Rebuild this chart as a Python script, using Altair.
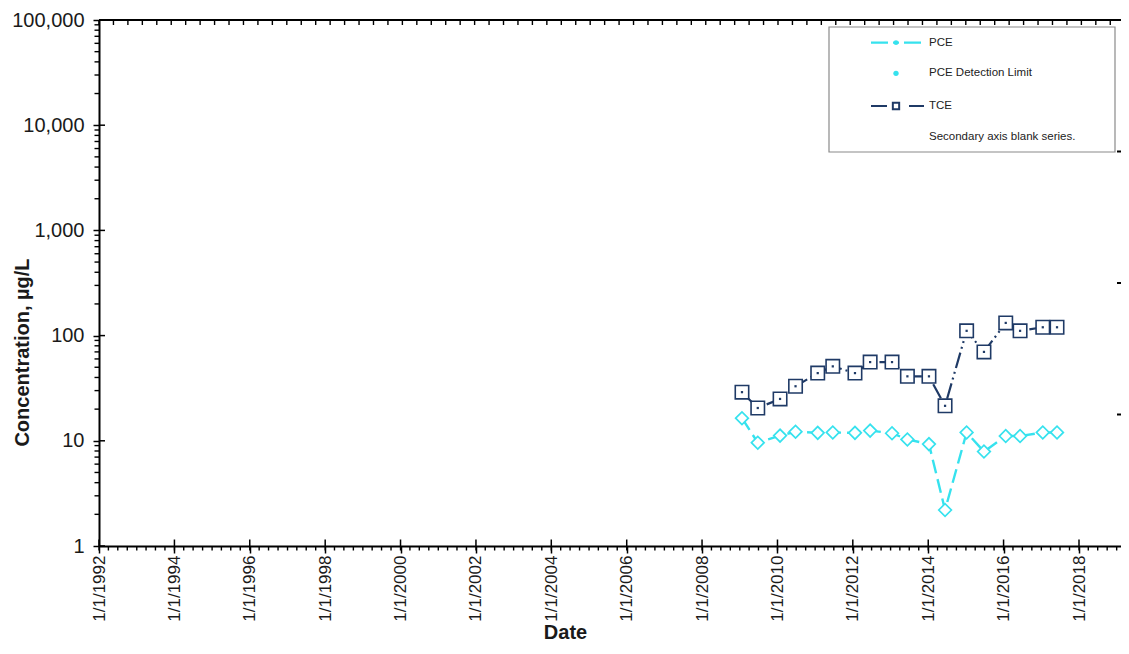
import altair as alt
import pandas as pd
import numpy as np

# ---------------- data ----------------
sample_dates = ["2009-01-22", "2009-06-24", "2010-01-26", "2010-06-25", "2011-01-26",
                "2011-06-21", "2012-01-22", "2012-06-17", "2013-01-15", "2013-06-13",
                "2014-01-08", "2014-06-13", "2015-01-08", "2015-06-25", "2016-01-22",
                "2016-06-09", "2017-01-15", "2017-06-02"]
tce_values = [29, 20.5, 25, 33, 44, 51, 44, 56, 56, 41, 41, 21.5, 111, 70, 132, 111, 120, 120]
pce_values = [16.4, 9.6, 11.2, 12.2, 11.9, 12.0, 11.9, 12.5, 11.8, 10.3, 9.3, 2.2,
              12.0, 7.9, 11.1, 11.1, 12.0, 12.0]

x_tick_years = list(range(1992, 2019, 2))
y_tick_values = [1, 10, 100, 1000, 10000, 100000]

legend_labels = ["PCE", "PCE Detection Limit", "TCE", "Secondary axis blank series."]

NAVY = "#1F3A66"
CYAN = "#36E2EE"
FONT = "Liberation Sans"

W, H = 1022, 526

df = pd.DataFrame({
    "date": pd.to_datetime(sample_dates),
    "TCE": tce_values,
    "PCE": pce_values,
})

xscale = alt.Scale(domain=[alt.DateTime(year=1992, month=1, date=1),
                           alt.DateTime(year=2019, month=2, date=12)], nice=False)
yscale = alt.Scale(type="log", domain=[1, 100000], nice=False)

x_axis = alt.Axis(
    values=[alt.DateTime(year=y, month=1, date=1) for y in x_tick_years],
    format="1/1/%Y", labelAngle=-90, labelFont=FONT, labelFontSize=17,
    labelColor="#1a1a1a", labelPadding=2, tickSize=7, tickWidth=1.5, tickColor="black",
    domainColor="black", domainWidth=2, grid=False,
    title="Date", titleFont=FONT, titleFontSize=20, titleFontWeight="bold",
    titleColor="#1a1a1a", titleX=466, titleY=92.5, titleBaseline="alphabetic",
)
y_axis = alt.Axis(
    values=y_tick_values, format=",", labelFont=FONT, labelFontSize=20,
    labelColor="#1a1a1a", labelPadding=9, tickSize=6, tickWidth=1.5, tickColor="black",
    domainColor="black", domainWidth=2, grid=False,
    title="Concentration, µg/L", titleFont=FONT, titleFontSize=20, titleFontWeight="bold",
    titleColor="#1a1a1a", titleAngle=-90, titleX=-77, titleY=332,
    titleAlign="center", titleBaseline="middle",
)


def X(field):
    return alt.X(field, type="temporal", scale=xscale, axis=x_axis)


def Y(field):
    return alt.Y(field, type="quantitative", scale=yscale, axis=y_axis)


# ---------------- data series ----------------
tce_line = alt.Chart(df).mark_line(color=NAVY, strokeWidth=2.2, strokeDash=[16, 4, 2, 4, 2, 4]).encode(
    x=X("date"), y=Y("TCE"))
tce_pts = alt.Chart(df).mark_point(shape="square", size=180, filled=True, fill="white",
                                   stroke=NAVY, strokeWidth=1.6, opacity=1).encode(
    x=X("date"), y=Y("TCE"))
tce_dots = alt.Chart(df).mark_point(shape="square", size=5, filled=True, color=NAVY, opacity=1).encode(
    x=X("date"), y=Y("TCE"))
pce_line = alt.Chart(df).mark_line(color=CYAN, strokeWidth=2.4, strokeDash=[14, 6]).encode(
    x=X("date"), y=Y("PCE"))
pce_pts = alt.Chart(df).mark_point(shape="diamond", size=160, filled=True, fill="white",
                                   stroke=CYAN, strokeWidth=1.7, opacity=1).encode(
    x=X("date"), y=Y("PCE"))

# ---------------- axis decorations (ticks) ----------------
quarters = pd.DataFrame({"date": pd.date_range("1992-01-01", "2019-01-01", freq="QS")})
majors = pd.DataFrame({"date": pd.to_datetime([f"{y}-01-01" for y in x_tick_years])})
top_ticks = pd.DataFrame({"date": pd.date_range("1992-01-01", "2019-01-01", freq="140D")})
y_minor = pd.DataFrame({"TCE": [m * 10 ** k for k in range(5) for m in range(2, 10)]})
y_major = pd.DataFrame({"TCE": y_tick_values})
right_ticks = pd.DataFrame({"TCE": [10 ** (5 - 1.25 * k) for k in (1, 2, 3)]})
one = pd.DataFrame({"a": [0]})

x_minor_rules = alt.Chart(quarters).mark_rule(color="black", strokeWidth=1.4).encode(
    x=X("date"), y=alt.value(H), y2=alt.value(H + 4.5))
x_major_in = alt.Chart(majors).mark_rule(color="black", strokeWidth=1.5).encode(
    x=X("date"), y=alt.value(H - 6.5), y2=alt.value(H))
top_rules = alt.Chart(top_ticks).mark_rule(color="black", strokeWidth=1.4).encode(
    x=X("date"), y=alt.value(0), y2=alt.value(5))
top_line = alt.Chart(one).mark_rule(color="black", strokeWidth=2).encode(
    x=alt.value(0), x2=alt.value(W), y=alt.value(0))
y_minor_rules = alt.Chart(y_minor).mark_rule(color="black", strokeWidth=1.4).encode(
    y=Y("TCE"), x=alt.value(-4.5), x2=alt.value(0))
y_major_in = alt.Chart(y_major).mark_rule(color="black", strokeWidth=1.5).encode(
    y=Y("TCE"), x=alt.value(0), x2=alt.value(6))
right_rules = alt.Chart(right_ticks).mark_rule(color="black", strokeWidth=2).encode(
    y=Y("TCE"), x=alt.value(W - 4), x2=alt.value(W))

# ---------------- manual legend ----------------
LX0, LX1, LY0, LY1 = 730, 1016, 7, 132
SX0, SX1, SM, TX = 772, 825, 797, 830
rows = [22.7, 53.3, 86, 116.7]

legend_box = alt.Chart(one).mark_rect(fill="white", stroke="#8a8a8a", strokeWidth=1.2).encode(
    x=alt.value(LX0), x2=alt.value(LX1), y=alt.value(LY0), y2=alt.value(LY1))
leg_layers = [legend_box]
leg_layers.append(alt.Chart(one).mark_rule(color=CYAN, strokeWidth=2.2, strokeDash=[17, 5, 6, 5]).encode(
    x=alt.value(SX0), x2=alt.value(SX1), y=alt.value(rows[0])))
leg_layers.append(alt.Chart(one).mark_point(shape="circle", size=22, filled=True, color=CYAN, opacity=1).encode(
    x=alt.value(SM), y=alt.value(rows[0])))
leg_layers.append(alt.Chart(one).mark_point(shape="circle", size=28, filled=True, color=CYAN, opacity=1).encode(
    x=alt.value(SM), y=alt.value(rows[1])))
leg_layers.append(alt.Chart(one).mark_rule(color=NAVY, strokeWidth=2.2, strokeDash=[16, 22, 16]).encode(
    x=alt.value(SX0), x2=alt.value(SX1), y=alt.value(rows[2])))
leg_layers.append(alt.Chart(one).mark_point(shape="square", size=40, filled=True, fill="white",
                                            stroke=NAVY, strokeWidth=2, opacity=1).encode(
    x=alt.value(SM), y=alt.value(rows[2])))
for lab, ry in zip(legend_labels, rows):
    leg_layers.append(alt.Chart(one).mark_text(
        text=lab, align="left", baseline="middle", font=FONT, fontSize=11.5, color="#222222").encode(
        x=alt.value(TX), y=alt.value(ry)))

chart = alt.layer(
    tce_line, pce_line, tce_pts, tce_dots, pce_pts,
    x_minor_rules, x_major_in, top_rules, top_line, y_minor_rules, y_major_in,
    *leg_layers, right_rules,
).properties(
    width=W, height=H,
    autosize=alt.AutoSizeParams(type="none"),
    padding={"left": 91, "top": 12, "right": 0, "bottom": 96},
).configure_view(stroke=None)

chart.save("out.html", embed_options={"renderer": "svg", "actions": False})
